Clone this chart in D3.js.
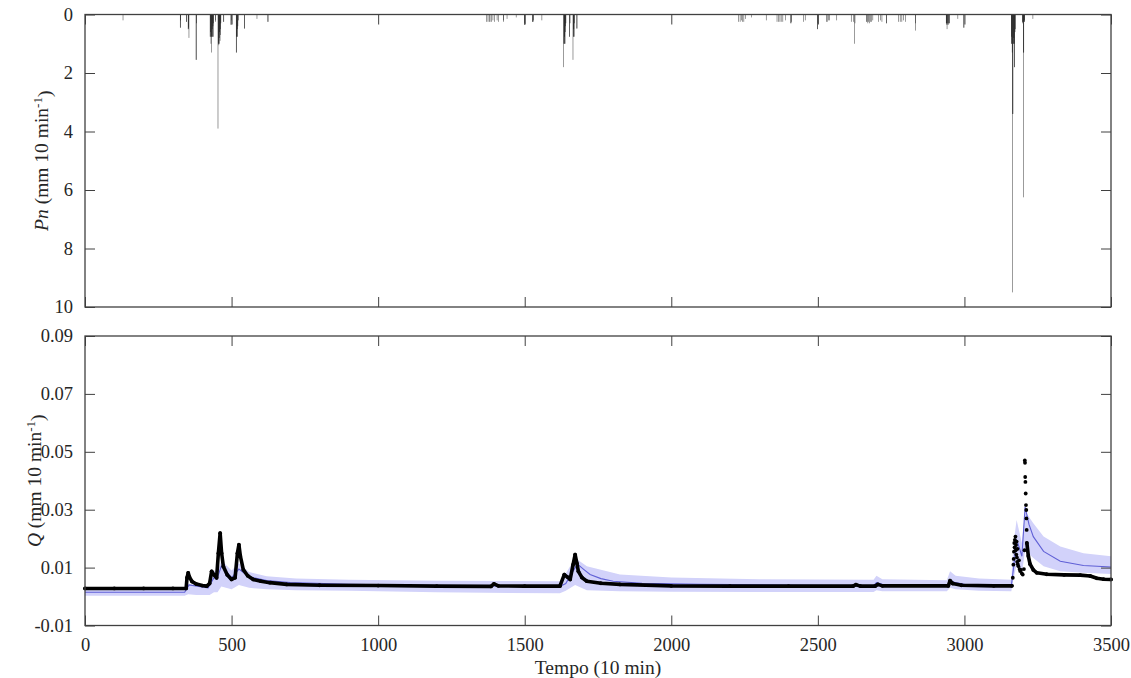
<!DOCTYPE html>
<html><head><meta charset="utf-8">
<script src="https://cdn.jsdelivr.net/npm/d3@7"></script>
<style>
body{margin:0;background:#fff}
svg{display:block}
</style>
</head><body>
<svg id="chart" width="1131" height="678"></svg>
<script>
// ---------- DATA ----------
const xTicks = [0, 500, 1000, 1500, 2000, 2500, 3000, 3500];
const pTicks = [0, 2, 4, 6, 8, 10];
const qTicks = [-0.01, 0.01, 0.03, 0.05, 0.07, 0.09];

// net rainfall Pn (mm 10 min-1), per 10-min step
const rainTime = [129,324,325,326,345,346,351,352,353,354,378,379,380,
 426,427,428,429,430,431,432,433,434,435,436,437,438,444,445,
 453,454,455,456,457,458,459,460,461,462,463,472,473,497,498,499,
 515,516,517,518,519,520,521,524,543,544,586,623,624,
 1370,1374,1378,1381,1386,1391,1397,1405,1410,1427,1428,1439,1470,1498,1499,1500,
 1526,1527,1528,1529,1558,1632,1633,1634,1635,1636,1637,1638,1639,1640,
 1652,1653,1654,1664,1665,1666,1667,1668,1669,1677,1678,
 2229,2234,2238,2243,2247,2252,2274,2323,2360,2365,2370,2374,2380,2388,
 2407,2408,2409,2451,2456,2498,2499,2500,2528,2531,2536,2540,2564,
 2613,2620,2625,2626,2665,2667,2670,2672,2675,2678,2682,2687,2707,2712,2718,
 2733,2734,2775,2780,2786,2792,2798,2832,2833,
 2937,2938,2939,2940,2941,2942,2944,2945,2947,2948,2977,2997,2998,
 3159,3160,3161,3162,3163,3164,3165,3166,3167,3168,3169,3170,3171,3172,3173,
 3197,3198,3199,3200,3201,3202,3203,3204,3205,3233];
const rainDepth = [0.2,0.45,0.45,0.2,0.25,0.25,0.5,0.5,0.45,0.8,1.55,1.55,0.3,
 0.76,0.76,0.6,1.0,0.76,1.3,0.76,0.5,0.76,0.76,0.4,0.76,0.3,0.25,0.2,
 3.9,1.0,1.0,1.05,0.8,1.0,0.6,0.9,0.7,0.5,0.3,0.25,0.25,0.35,0.35,0.2,
 1.3,1.3,0.76,0.76,0.5,0.76,0.4,0.2,0.48,0.48,0.15,0.25,0.25,
 0.25,0.25,0.25,0.25,0.25,0.2,0.25,0.2,0.25,0.25,0.2,0.15,0.1,0.35,0.35,0.3,
 0.25,0.25,0.25,0.2,0.2,1.8,1.0,1.0,1.0,0.76,1.0,0.6,0.4,0.3,
 0.76,0.76,0.3,1.55,0.76,0.76,0.5,0.76,0.3,0.48,0.48,
 0.25,0.25,0.2,0.25,0.25,0.15,0.1,0.2,0.25,0.25,0.25,0.25,0.25,0.2,
 0.3,0.3,0.25,0.25,0.2,0.5,0.5,0.3,0.25,0.25,0.2,0.2,0.2,
 0.25,0.25,1.0,0.3,0.25,0.25,0.3,0.25,0.3,0.25,0.25,0.2,0.25,0.2,0.25,
 0.3,0.3,0.25,0.25,0.25,0.2,0.25,0.55,0.3,
 0.3,0.35,0.3,0.5,0.35,0.3,0.3,0.35,0.3,0.3,0.15,0.45,0.45,
 0.76,1.0,1.0,1.3,9.5,3.4,3.4,1.0,1.0,0.8,1.0,1.8,1.8,0.6,0.5,
 0.25,0.3,0.25,1.3,6.25,1.3,0.25,0.25,0.2,0.15];

// observed Q, continuous part up to the last event
const obsTime = [0,100,200,300,345,348,352,356,365,380,400,415,425,432,440,449,455,461,466,472,485,500,512,520,525,530,540,555,574,600,631,688,800,1000,1200,1385,1395,1410,1500,1620,1635,1645,1655,1665,1672,1678,1683,1695,1712,1760,1825,2000,2200,2400,2620,2630,2645,2695,2705,2720,2945,2951,2960,2990,3100,3162];
const obsQ = [0.0028,0.0028,0.0028,0.0028,0.0028,0.0065,0.0082,0.0068,0.0052,0.0043,0.0038,0.0036,0.0045,0.0087,0.0075,0.0065,0.0150,0.0219,0.0150,0.0104,0.0075,0.0059,0.0065,0.0150,0.0179,0.0140,0.0093,0.0072,0.0059,0.0053,0.0048,0.0042,0.0039,0.0038,0.0036,0.0035,0.0044,0.0037,0.0036,0.0036,0.0076,0.0068,0.0059,0.0110,0.0145,0.0115,0.0087,0.0066,0.0053,0.0046,0.0042,0.0037,0.0036,0.0036,0.0036,0.0041,0.0036,0.0036,0.0042,0.0037,0.0037,0.0055,0.0045,0.0039,0.0037,0.0037];
// observed Q, scattered points of the last event
const obsPeakTime = [3165,3167,3168,3169,3170,3171,3172,3174,3175,3176,3177,3178,3179,3180,3181,3182,3184,3186,3188,3190,3193,3196,3199,3203,3205,3206,3206.6,3207.3,3208,3209,3210,3211,3211.6,3212.3];
const obsPeakQ = [0.0065,0.0110,0.0130,0.0155,0.0185,0.0170,0.0196,0.0207,0.0160,0.0178,0.0145,0.0190,0.0135,0.0120,0.0165,0.0112,0.0105,0.0125,0.0095,0.0088,0.0092,0.0080,0.0076,0.0095,0.0160,0.0470,0.0462,0.0413,0.0396,0.0356,0.0316,0.0299,0.0270,0.0230];
// observed Q, recession of the last event
const obsTailTime = [3213,3218,3224,3235,3247,3281,3340,3395,3429,3452,3475,3500];
const obsTailQ = [0.0185,0.0140,0.0112,0.0092,0.0082,0.0077,0.0075,0.0074,0.0071,0.0063,0.0060,0.0059];

// simulated Q (median)
const simTime = [0,340,355,420,440,450,465,500,525,560,620,700,900,1200,1400,1620,1640,1660,1680,1700,1723,1760,1802,1900,2100,2500,2690,2700,2720,2940,2952,2970,3000,3160,3170,3178,3187,3196,3207,3220,3235,3270,3327,3406,3500];
const simQ = [0.0015,0.0015,0.0040,0.0030,0.0065,0.0060,0.0105,0.0065,0.0095,0.0068,0.0055,0.0048,0.0042,0.0038,0.0037,0.0035,0.0045,0.0080,0.0112,0.0095,0.0076,0.0062,0.0053,0.0046,0.0042,0.0039,0.0038,0.0048,0.0042,0.0038,0.0055,0.0048,0.0042,0.0037,0.0120,0.0196,0.0170,0.0139,0.0310,0.0250,0.0207,0.0156,0.0122,0.0107,0.0102];

// uncertainty band
const bandTime = [0,340,352,380,425,440,452,465,500,525,560,620,720,900,1200,1620,1640,1672,1712,1825,2000,2300,2690,2700,2720,2940,2951,2970,3050,3160,3167,3178,3196,3207,3235,3270,3327,3406,3500];
const bandLow = [0.0003,0.0003,0.0008,0.0005,0.0005,0.0015,0.0015,0.0035,0.0025,0.0040,0.0030,0.0025,0.0022,0.0020,0.0015,0.0011,0.0020,0.0040,0.0022,0.0018,0.0017,0.0016,0.0016,0.0022,0.0018,0.0018,0.0030,0.0025,0.0020,0.0018,0.0060,0.0110,0.0080,0.0160,0.0133,0.0105,0.0087,0.0082,0.0078];
const bandHigh = [0.0028,0.0028,0.0045,0.0038,0.0035,0.0090,0.0085,0.0125,0.0090,0.0115,0.0085,0.0070,0.0062,0.0058,0.0055,0.0053,0.0080,0.0133,0.0105,0.0076,0.0066,0.0060,0.0058,0.0072,0.0060,0.0056,0.0087,0.0072,0.0062,0.0058,0.0180,0.0264,0.0185,0.0295,0.0253,0.0207,0.0173,0.0150,0.0139];

// ---------- CHART ----------
const FONT = '"Liberation Serif","Times New Roman",serif';
const svg = d3.select("#chart");
svg.append("rect").attr("width",1131).attr("height",678).attr("fill","#fff");

const L = 85, R = 1111;
const x = d3.scaleLinear().domain([0, 3500]).range([L, R]);
const yP = d3.scaleLinear().domain([0, 10]).range([14.5, 307]);
const yQ = d3.scaleLinear().domain([-0.01, 0.09]).range([625.5, 336]);

const axisColor = "#404040";
const tickFont = "18.5px", labelFont = "19.5px";

// ---- top panel: rainfall bars ----
const rain = rainTime.map((t, i) => ({t, p: rainDepth[i]}));
const bw = (x(1) - x(0)) * 1.35;
svg.append("g").selectAll("rect").data(rain).join("rect")
  .attr("x", d => x(d.t))
  .attr("y", yP(0))
  .attr("width", bw)
  .attr("height", d => yP(d.p) - yP(0))
  .attr("fill", "#000");

// ---- bottom panel ----
const band = bandTime.map((t, i) => ({t, lo: bandLow[i], hi: bandHigh[i]}));
svg.append("path").datum(band)
  .attr("d", d3.area().x(d => x(d.t)).y0(d => yQ(d.lo)).y1(d => yQ(d.hi)))
  .attr("fill", "#d2d2fa");

const sim = simTime.map((t, i) => ({t, q: simQ[i]}));
svg.append("path").datum(sim)
  .attr("d", d3.line().x(d => x(d.t)).y(d => yQ(d.q)))
  .attr("fill", "none").attr("stroke", "#6060d6").attr("stroke-width", 1.1);

const obs = obsTime.map((t, i) => ({t, q: obsQ[i]}));
const tail = obsTailTime.map((t, i) => ({t, q: obsTailQ[i]}));
const peak = obsPeakTime.map((t, i) => ({t, q: obsPeakQ[i]}));
const obsLine = d3.line().x(d => x(d.t)).y(d => yQ(d.q));
[obs, tail].forEach(s => {
  svg.append("path").datum(s).attr("d", obsLine)
    .attr("fill", "none").attr("stroke", "#000").attr("stroke-width", 3.6)
    .attr("stroke-linejoin", "round").attr("stroke-linecap", "round");
});
svg.append("g").selectAll("circle").data(obs.concat(peak, tail)).join("circle")
  .attr("cx", d => x(d.t)).attr("cy", d => yQ(d.q)).attr("r", 1.9).attr("fill", "#000");

// ---- axes ----
function styleAxis(g) {
  g.attr("font-family", FONT).attr("font-size", tickFont);
  g.select(".domain").remove();
  g.selectAll(".tick line").attr("stroke", axisColor).attr("stroke-width", 1);
  g.selectAll(".tick text").style("font-family", FONT).style("font-size", tickFont).attr("fill", "#262626");
}
function panel(y, top, bottom, yTickVals, yFmt, xLabels) {
  svg.append("g").attr("transform", `translate(${L},0)`)
    .call(d3.axisLeft(y).tickValues(yTickVals).tickFormat(yFmt).tickSizeInner(-10).tickSizeOuter(0).tickPadding(12))
    .call(styleAxis);
  svg.append("g").attr("transform", `translate(${R},0)`)
    .call(d3.axisRight(y).tickValues(yTickVals).tickFormat("").tickSizeInner(-10).tickSizeOuter(0))
    .call(styleAxis);
  svg.append("g").attr("transform", `translate(0,${top})`)
    .call(d3.axisTop(x).tickValues(xTicks).tickFormat("").tickSizeInner(-10).tickSizeOuter(0))
    .call(styleAxis);
  svg.append("g").attr("transform", `translate(0,${bottom})`)
    .call(d3.axisBottom(x).tickValues(xTicks).tickFormat(xLabels ? d3.format("d") : "").tickSizeInner(-10).tickSizeOuter(0).tickPadding(12))
    .call(styleAxis);
  svg.append("rect").attr("x", L).attr("y", top).attr("width", R - L).attr("height", bottom - top)
    .attr("fill", "none").attr("stroke", axisColor).attr("stroke-width", 1.3);
}
panel(yP, yP(0), yP(10), pTicks, d3.format("d"), false);
panel(yQ, yQ(0.09), yQ(-0.01), qTicks, d => d.toFixed(2), true);

// ---- axis titles ----
function yTitle(sym, xPos, yPos) {
  const t = svg.append("text").attr("transform", `translate(${xPos},${yPos}) rotate(-90)`)
    .attr("text-anchor", "middle").style("font-family", FONT).style("font-size", labelFont).attr("fill", "#262626");
  t.append("tspan").attr("font-style", "italic").text(sym);
  t.append("tspan").text(" (mm 10 min");
  t.append("tspan").attr("dy", "-0.45em").style("font-size", "13px").text("-1");
  t.append("tspan").attr("dy", "0.45em").text(")");
}
yTitle("Pn", 48, (yP(0) + yP(10)) / 2);
yTitle("Q", 41, (yQ(0.09) + yQ(-0.01)) / 2);

svg.append("text").attr("x", (L + R) / 2).attr("y", 674).attr("text-anchor", "middle")
  .style("font-family", FONT).style("font-size", labelFont).attr("fill", "#262626").text("Tempo (10 min)");
</script>
</body></html>
